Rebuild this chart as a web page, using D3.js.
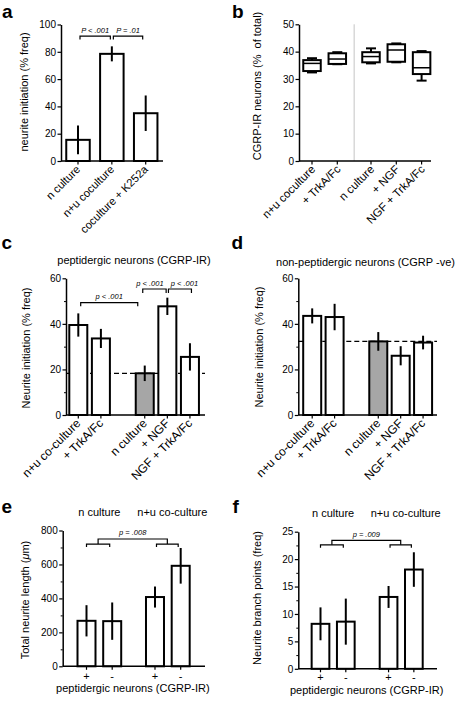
<!DOCTYPE html>
<html><head><meta charset="utf-8">
<script src="https://cdn.jsdelivr.net/npm/d3@7"></script>
<style>
body{margin:0;background:#fff}
text{font-family:'Liberation Sans',Arial,Helvetica,sans-serif;fill:#000}
</style>
</head><body>
<script>
// ---------- DATA ----------
const aCats = ["n culture","n+u coculture","coculture + K252a"];
const aMeans = [15.5,78.5,35];
const aErrs = [10.5,5.5,13];
const aTicks = [0,20,40,60,80,100];
const aSig = ["P < .001","P = .01"];

const bCats = ["n+u coculture","+ TrkA/Fc","n culture","+ NGF","NGF + TrkA/Fc"];
const bGroup = [0,0,1,1,1];
const bMin = [32.4,35.4,35.7,36.1,29.4];
const bQ1  = [32.9,35.5,36.1,36.3,31.8];
const bMed = [35.7,37.3,38.2,40.6,34.1];
const bQ3  = [36.9,39.4,39.8,42.7,39.8];
const bMax = [37.6,39.8,41.2,43.0,40.2];
const bTicks = [0,10,20,30,40,50];

const cdCats = ["n+u co-culture","+ TrkA/Fc","n culture","+ NGF","NGF + TrkA/Fc"];
const cdGroup = [0,0,1,1,1];
const cMeans = [39.5,33.6,18.3,47.7,25.5];
const cErrs = [5.1,4.2,3.4,3.8,6];
const cRef = 18.3;
const cSig = ["p < .001","p < .001","p < .001"];
const dMeans = [43.5,43,32.3,26,31.8];
const dErrs = [3.3,5.8,4.1,4.2,3];
const dRef = 32.3;
const cdTicks = [0,20,40,60];
const cdMinor = [10,30,50];

const efCats = ["+","-","+","-"];
const efGroupOf = [0,0,1,1];
const efGroups = ["n culture","n+u co-culture"];
const eMeans = [268,266,408,592];
const eErrs = [92,110,62,105];
const eTicks = [0,200,400,600,800];
const eMinor = [100,300,500,700];
const eSig = "p = .008";
const fMeans = [8.2,8.6,13.1,18.1];
const fErrs = [3,4.2,2,3.15];
const fTicks = [0,5,10,15,20,25];
const fMinor = [2.5,7.5,12.5,17.5,22.5];
const fSig = "p = .009";

// ---------- DRAWING ----------
const svg = d3.select("body").append("svg").attr("width",461).attr("height",708);
const GREY = "#a6a6a6";

function yAxis(y, x0, ticks, minor){
  const g = svg.append("g").attr("transform",`translate(${x0},0)`).attr("font-size",11);
  g.call(d3.axisLeft(y).tickValues(ticks).tickSize(3.5).tickPadding(1.5).tickSizeOuter(0).tickFormat(d3.format("d")));
  g.select(".domain").attr("stroke","#000").attr("stroke-width",1.5);
  g.selectAll(".tick line").attr("stroke","#000").attr("stroke-width",1.2);
  if(minor){
    const m = svg.append("g").attr("transform",`translate(${x0},0)`);
    m.call(d3.axisLeft(y).tickValues(minor).tickSize(2).tickFormat(""));
    m.select(".domain").remove();
    m.selectAll(".tick line").attr("stroke","#000").attr("stroke-width",1);
  }
}
function xAxis(y, x0, x1, centers){
  const y0 = y(0);
  svg.append("line").attr("x1",x0).attr("x2",x1).attr("y1",y0).attr("y2",y0)
    .attr("stroke","#000").attr("stroke-width",1.5);
  svg.append("g").selectAll("line").data(centers).join("line")
    .attr("x1",d=>d).attr("x2",d=>d).attr("y1",y0).attr("y2",y0+3.5)
    .attr("stroke","#000").attr("stroke-width",1.2);
}
function rotLabels(cats, centers, y0, fs, dx=3){
  svg.append("g").attr("font-size",fs).selectAll("text").data(cats).join("text")
    .attr("text-anchor","end")
    .attr("transform",(d,i)=>`translate(${centers[i]+dx},${y0+9}) rotate(-45)`)
    .text(d=>d);
}
function yTitle(x, cy, txt){
  return svg.append("text").attr("font-size",11).attr("text-anchor","middle")
    .attr("transform",`translate(${x},${cy}) rotate(-90)`).text(txt);
}
function bars(centers, means, errs, y, bw, fillFn, ref, refX0, refX1){
  if(ref!==undefined){
    svg.append("line").attr("x1",refX0).attr("x2",refX1).attr("y1",y(ref)).attr("y2",y(ref))
      .attr("stroke","#000").attr("stroke-width",1.3).attr("stroke-dasharray","5,3");
  }
  svg.append("g").selectAll("rect").data(means).join("rect")
    .attr("x",(d,i)=>centers[i]-bw/2).attr("width",bw)
    .attr("y",d=>y(d)).attr("height",d=>y(0)-y(d))
    .attr("fill",(d,i)=>fillFn(i)).attr("stroke","#000").attr("stroke-width",2);
  svg.append("g").selectAll("line").data(means).join("line")
    .attr("x1",(d,i)=>centers[i]).attr("x2",(d,i)=>centers[i])
    .attr("y1",(d,i)=>y(d-errs[i])).attr("y2",(d,i)=>y(d+errs[i]))
    .attr("stroke","#000").attr("stroke-width",2);
}
function bracket(x1,x2,yTop,drop,label,dx=0){
  svg.append("path").attr("d",`M${x1},${yTop+drop}V${yTop}H${x2}V${yTop+drop}`)
    .attr("fill","none").attr("stroke","#000").attr("stroke-width",1.2);
  if(label) svg.append("text").attr("x",(x1+x2)/2+dx).attr("y",yTop-3.5).attr("text-anchor","middle")
    .attr("font-size",7.5).attr("font-style","italic").text(label);
}
function panelLetter(x,y,t){
  svg.append("text").attr("x",x).attr("y",y).attr("font-size",19).attr("font-weight","bold").text(t);
}
const slots = (grp,gap)=>grp.map((g,i)=>i+g*gap);

// ===== Panel a =====
{
  const y = d3.scaleLinear().domain([0,100]).range([161,24.5]);
  const x = d3.scaleLinear().domain([0,1]).range([78,111.85]);
  const cx = slots([0,0,0],0).map(x);
  bars(cx, aMeans, aErrs, y, 23.5, ()=>"#fff");
  yAxis(y, 61, aTicks);
  xAxis(y, 61, 163, cx);
  rotLabels(aCats, cx, y(0), 11.2);
  yTitle(28, 92, "neurite initiation (% freq)");
  const yb = y(91.5);
  bracket(cx[0]+2, cx[1]-1.5, yb, 3.5, aSig[0]);
  bracket(cx[1]+1.5, cx[2]-3, yb, 3.5, aSig[1]);
  panelLetter(2,17.5,"a");
}

// ===== Panel b =====
{
  const y = d3.scaleLinear().domain([0,50]).range([161,24.3]);
  const x = d3.scaleLinear().domain([0,1]).range([312,337.3]);
  const cx = slots(bGroup,0.332).map(x);
  const bw = 17.5, cap = 10;
  const divX = (cx[1]+cx[2])/2;
  svg.append("line").attr("x1",divX).attr("x2",divX).attr("y1",y(50)).attr("y2",y(0))
    .attr("stroke","#c4c4c4").attr("stroke-width",1);
  const g = svg.append("g").attr("stroke","#000").attr("stroke-width",2).attr("fill","none");
  bCats.forEach((c,i)=>{
    g.append("line").attr("x1",cx[i]).attr("x2",cx[i]).attr("y1",y(bMax[i])).attr("y2",y(bQ3[i]));
    g.append("line").attr("x1",cx[i]).attr("x2",cx[i]).attr("y1",y(bQ1[i])).attr("y2",y(bMin[i]));
    g.append("line").attr("x1",cx[i]-cap/2).attr("x2",cx[i]+cap/2).attr("y1",y(bMax[i])).attr("y2",y(bMax[i]));
    g.append("line").attr("x1",cx[i]-cap/2).attr("x2",cx[i]+cap/2).attr("y1",y(bMin[i])).attr("y2",y(bMin[i]));
    g.append("rect").attr("x",cx[i]-bw/2).attr("width",bw).attr("y",y(bQ3[i])).attr("height",y(bQ1[i])-y(bQ3[i])).attr("fill","#fff");
    g.append("line").attr("x1",cx[i]-bw/2).attr("x2",cx[i]+bw/2).attr("y1",y(bMed[i])).attr("y2",y(bMed[i])).attr("stroke-width",1.5);
  });
  yAxis(y, 299, bTicks);
  xAxis(y, 299, 431, cx);
  rotLabels(bCats, cx, y(0), 11.5, 4);
  yTitle(261, 86, "CGRP-IR neurons (%\u00a0 of total)");
  panelLetter(232,17.5,"b");
}

// ===== Panel c =====
{
  const y = d3.scaleLinear().domain([0,60]).range([415,278.3]);
  const x = d3.scaleLinear().domain([0,1]).range([78.3,100.9]);
  const cx = slots(cdGroup,0.94).map(x);
  bars(cx, cMeans, cErrs, y, 18, i=>cdCats[i]==="n culture"?GREY:"#fff", cRef, 66, 205);
  yAxis(y, 66, cdTicks, cdMinor);
  xAxis(y, 66, 205, cx);
  rotLabels(cdCats, cx, y(0), 12);
  yTitle(30, 348, "Neurite initiation (% freq)");
  bracket(cx[0]+2.4, cx[2]-7, y(49.3), 3.5, cSig[0]);
  bracket(cx[2]-2, cx[3]-1.2, y(55.3), 4, cSig[1], -4.5);
  bracket(cx[3]+1.1, cx[4]+1.5, y(55.3), 4, cSig[2], 4.5);
  svg.append("text").attr("x",134).attr("y",264.3).attr("text-anchor","middle").attr("font-size",11)
    .text("peptidergic neurons (CGRP-IR)");
  panelLetter(1.5,248.5,"c");
}

// ===== Panel d =====
{
  const y = d3.scaleLinear().domain([0,60]).range([415,278.3]);
  const x = d3.scaleLinear().domain([0,1]).range([312.2,334.6]);
  const cx = slots(cdGroup,0.95).map(x);
  bars(cx, dMeans, dErrs, y, 18, i=>cdCats[i]==="n culture"?GREY:"#fff", dRef, 298.3, 437);
  yAxis(y, 298.3, cdTicks, cdMinor);
  xAxis(y, 298.3, 437, cx);
  rotLabels(cdCats, cx, y(0), 12);
  yTitle(262.5, 347, "Neurite initiation (% freq)");
  svg.append("text").attr("x",365.5).attr("y",265.5).attr("text-anchor","middle").attr("font-size",11)
    .text("non-peptidergic neurons (CGRP -ve)");
  panelLetter(231.5,248.5,"d");
}

// ===== Panels e & f =====
function efPanel(opts){
  const {means, errs, y, x0, x1, c0, step, gap, bw, ticks, minor, sig, lowV, upV, topY, botY, tickLabY, letter, lx, ly} = opts;
  const x = d3.scaleLinear().domain([0,1]).range([c0, c0+step]);
  const cx = slots(efGroupOf,gap).map(x);
  bars(cx, means, errs, y, bw, ()=>"#fff");
  yAxis(y, x0, ticks, minor);
  xAxis(y, x0, x1, cx);
  svg.append("g").attr("font-size",11).selectAll("text").data(efCats).join("text")
    .attr("x",(d,i)=>cx[i]).attr("y",tickLabY).attr("text-anchor","middle").text(d=>d);
  const yl = y(lowV), yu = y(upV);
  const l1 = [cx[0], cx[1]-2.5], l2 = [cx[2]+1.5, cx[3]-2.5];
  bracket(l1[0], l1[1], yl, 3, null);
  bracket(l2[0], l2[1], yl, 3, null);
  bracket((l1[0]+l1[1])/2, (l2[0]+l2[1])/2, yu, yl-yu, sig);
  efGroups.forEach((gname,gi)=>{
    const mid = (cx[gi*2]+cx[gi*2+1])/2 + (gi?4.5:0);
    svg.append("text").attr("x",mid).attr("y",topY).attr("text-anchor","middle").attr("font-size",11).text(gname);
  });
  svg.append("text").attr("x",(x0+x1)/2-1).attr("y",botY).attr("text-anchor","middle").attr("font-size",11)
    .text("peptidergic neurons (CGRP-IR)");
  panelLetter(lx,ly,letter);
}
{
  const y = d3.scaleLinear().domain([0,800]).range([666.3,530.5]);
  efPanel({means:eMeans, errs:eErrs, y, x0:62.7, x1:205, c0:86.5, step:25.7, gap:0.665, bw:18,
    ticks:eTicks, minor:eMinor, sig:eSig, lowV:720, upV:750, topY:516, botY:691.5, tickLabY:680,
    letter:"e", lx:1.5, ly:512.7});
  const t = yTitle(28.5, 600, "");
  t.append("tspan").text("Total neurite length (");
  t.append("tspan").attr("font-style","italic").text("\u03bc");
  t.append("tspan").text("m)");
}
{
  const y = d3.scaleLinear().domain([0,25]).range([668.8,531.7]);
  efPanel({means:fMeans, errs:fErrs, y, x0:298.3, x1:437, c0:320.5, step:25.3, gap:0.69, bw:17.7,
    ticks:fTicks, minor:fMinor, sig:fSig, lowV:22.6, upV:23.4, topY:517, botY:693.5, tickLabY:681,
    letter:"f", lx:232.5, ly:513.3});
  yTitle(261, 598, "Neurite branch points (freq)");
}
</script>
</body></html>
